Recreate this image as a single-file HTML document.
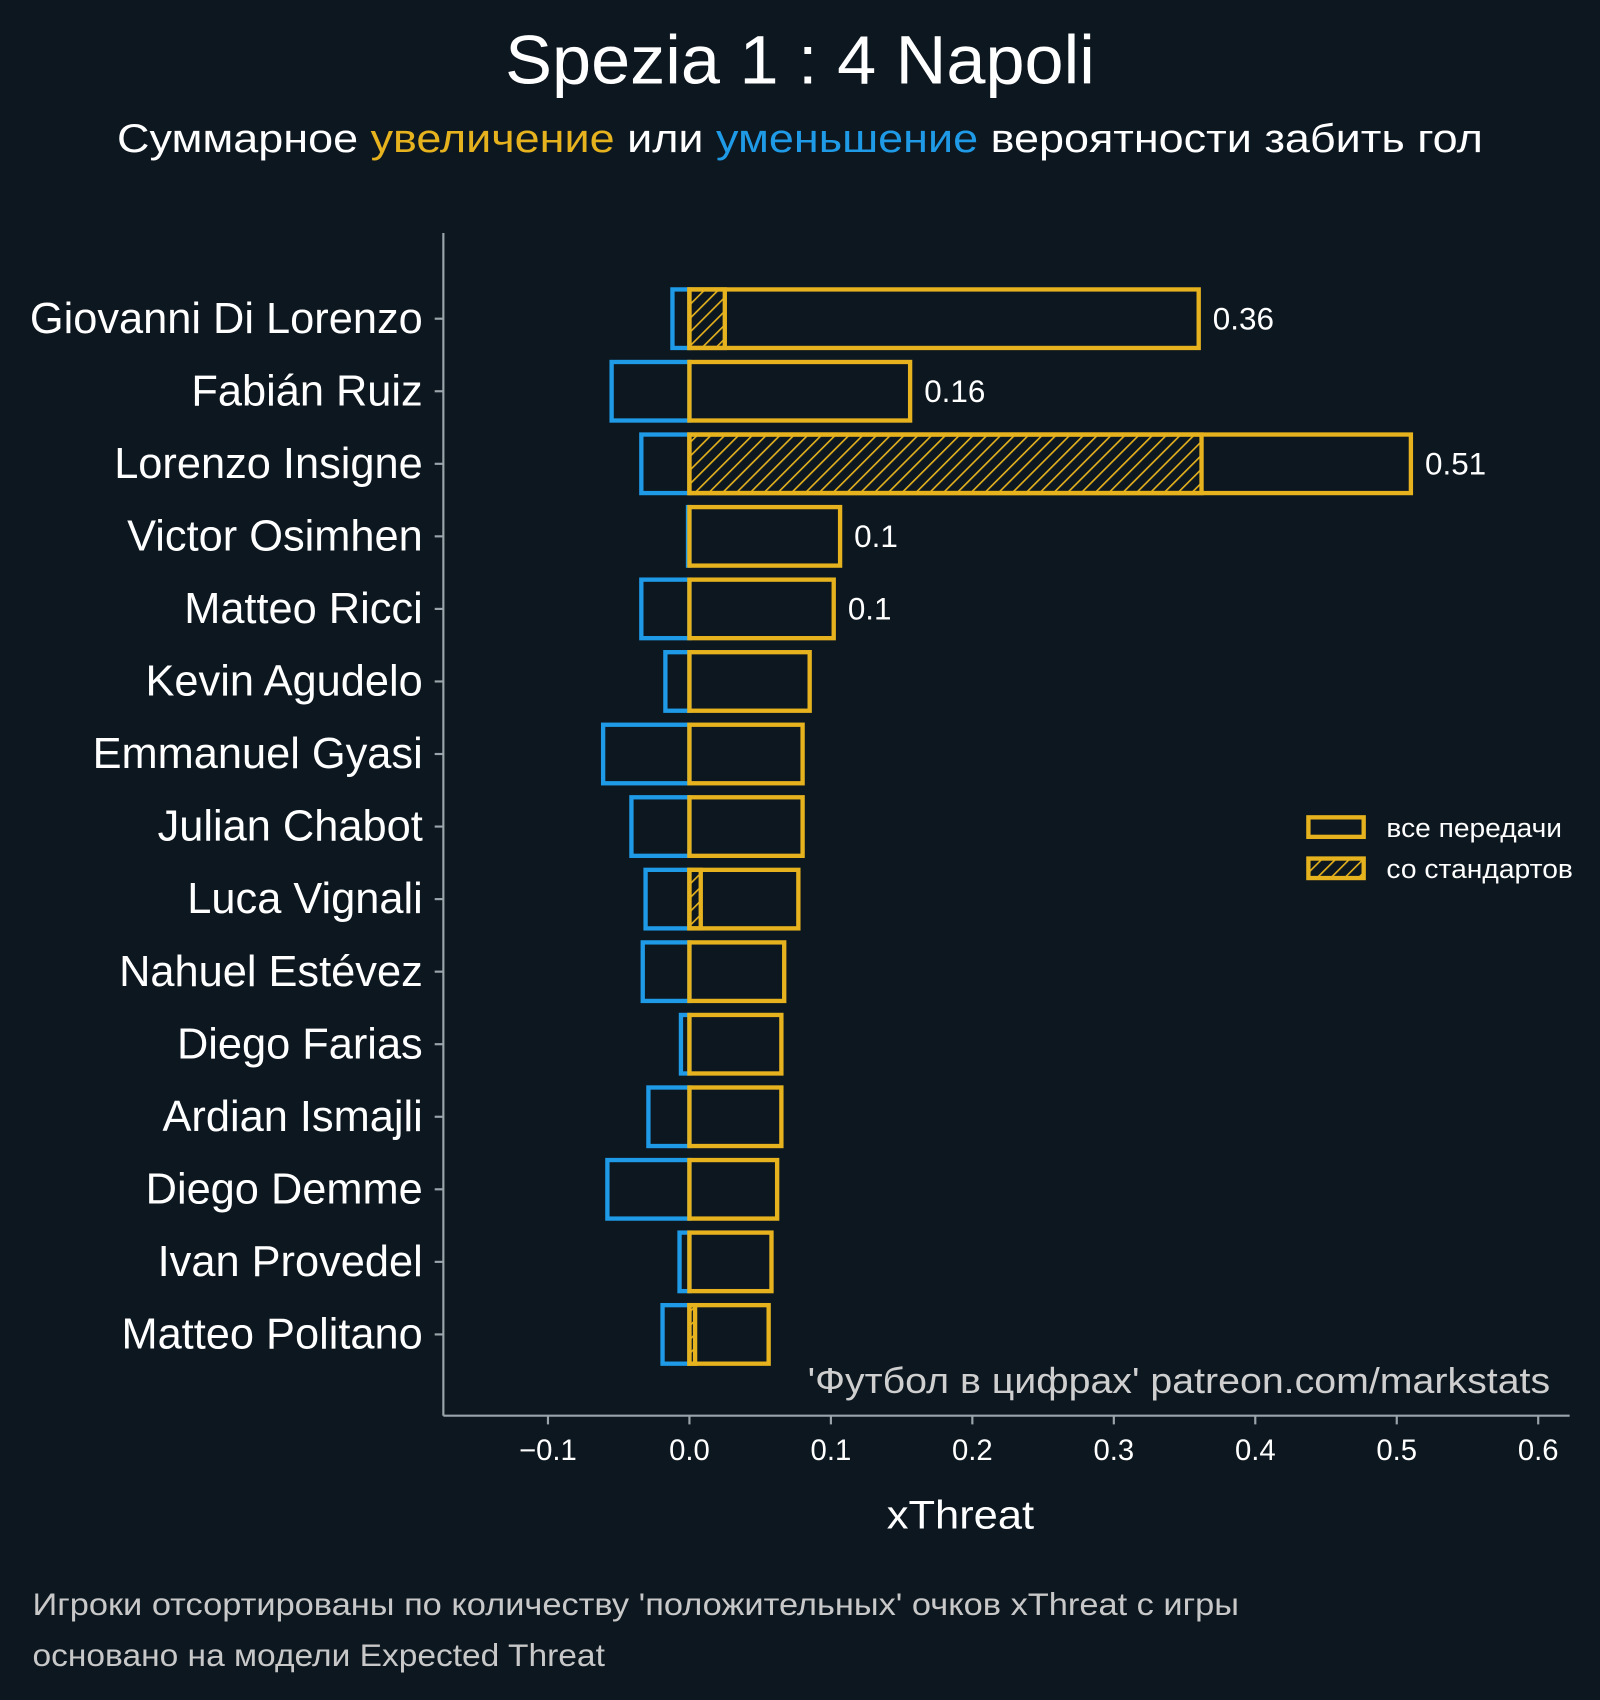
<!DOCTYPE html>
<html><head><meta charset="utf-8">
<style>
html,body{margin:0;padding:0;background:#0d1720;}
svg{display:block;font-family:"Liberation Sans","DejaVu Sans",sans-serif;}
</style></head>
<body>
<svg id="chart" width="1600" height="1700" viewBox="0 0 1476 1568.25" preserveAspectRatio="none" xmlns="http://www.w3.org/2000/svg">
<defs>
<pattern id="hatch" patternUnits="userSpaceOnUse" width="9" height="9" patternTransform="rotate(45)">
<rect width="9" height="9" fill="#0d1720"/>
<line x1="0" y1="0" x2="0" y2="9" stroke="#e6b31e" stroke-width="3"/>
</pattern>
</defs>
<rect x="0" y="0" width="1476" height="1570" fill="#0d1720"/>
<text x="466" y="77" textLength="544" lengthAdjust="spacingAndGlyphs" font-size="63" fill="#ffffff">Spezia 1 : 4 Napoli</text>
<text x="108" y="140" textLength="1260" lengthAdjust="spacingAndGlyphs" font-size="37" fill="#ffffff">Суммарное <tspan fill="#e6b31e">увеличение</tspan> или <tspan fill="#1f9ae6">уменьшение</tspan> вероятности забить гол</text>
<g id="plot"></g>
<g>
<rect x="1207" y="754" width="51" height="18" fill="none" stroke="#e6b31e" stroke-width="4"/>
<text x="1279" y="772" textLength="162" lengthAdjust="spacingAndGlyphs" font-size="24" fill="#ffffff">все передачи</text>
<rect x="1207" y="792" width="51" height="18" fill="url(#hatch)" stroke="#e6b31e" stroke-width="4"/>
<text x="1279" y="810" textLength="172" lengthAdjust="spacingAndGlyphs" font-size="24" fill="#ffffff">со стандартов</text>
</g>
<text x="745" y="1285" textLength="685" lengthAdjust="spacingAndGlyphs" font-size="33" fill="#cfcfcf">'Футбол в цифрах' patreon.com/markstats</text>
<text x="818" y="1410" textLength="136" lengthAdjust="spacingAndGlyphs" font-size="37" fill="#ffffff">xThreat</text>
<text x="30" y="1490" textLength="1113" lengthAdjust="spacingAndGlyphs" font-size="29" fill="#c8c8c8">Игроки отсортированы по количеству 'положительных' очков xThreat с игры</text>
<text x="30" y="1537" textLength="528" lengthAdjust="spacingAndGlyphs" font-size="29" fill="#c8c8c8">основано на модели Expected Threat</text>
</svg>
<script>
const players = ["Giovanni Di Lorenzo","Fabián Ruiz","Lorenzo Insigne","Victor Osimhen","Matteo Ricci","Kevin Agudelo","Emmanuel Gyasi","Julian Chabot","Luca Vignali","Nahuel Estévez","Diego Farias","Ardian Ismajli","Diego Demme","Ivan Provedel","Matteo Politano"];
const positiveValues = [0.36,0.156,0.51,0.1065,0.102,0.085,0.08,0.08,0.077,0.067,0.065,0.065,0.062,0.058,0.056];
const negativeValues = [-0.012,-0.055,-0.034,-0.001,-0.034,-0.017,-0.061,-0.041,-0.031,-0.033,-0.006,-0.029,-0.058,-0.007,-0.019];
const setPieceValues = [0.025,0,0.362,0,0,0,0,0,0.008,0,0,0,0,0,0.004];
const valueLabels = ["0.36","0.16","0.51","0.1","0.1","","","","","","","","","",""];
const xTicks = [-0.1,0,0.1,0.2,0.3,0.4,0.5,0.6];
const xTickLabels = ["−0.1","0.0","0.1","0.2","0.3","0.4","0.5","0.6"];

const NS="http://www.w3.org/2000/svg";
const g=document.getElementById('plot');
const X0=636, XS=1305;
const xs=v=>X0+v*XS;
const Y0=294, YS=(1231-294)/(players.length-1);
const ys=i=>Y0+i*YS;
const BH=54;
function mk(tag,attrs){const e=document.createElementNS(NS,tag);for(const k in attrs)e.setAttribute(k,attrs[k]);g.appendChild(e);return e;}

let ax=mk('line',{x1:409,y1:215,x2:409,y2:1306,stroke:'#9aa4aa','stroke-width':2});


let bx=mk('line',{x1:409,y1:1306,x2:1448,y2:1306,stroke:'#9aa4aa','stroke-width':2});



xTicks.forEach((t,i)=>{
  const tk=mk('line',{x1:xs(t),y1:1306,x2:xs(t),y2:1314,stroke:'#9aa4aa','stroke-width':2});
  
  
  const tl=mk('text',{x:xs(t),y:1347,'text-anchor':'middle','font-size':27,fill:'#ffffff'});
  tl.textContent=xTickLabels[i];
  
  
});

players.forEach((p,i)=>{
  const y=ys(i);
  const tk=mk('line',{x1:401,y1:y,x2:409,y2:y,stroke:'#9aa4aa','stroke-width':2});
  
  
  const lb=mk('text',{x:390,y:y+13,'text-anchor':'end','font-size':40,fill:'#ffffff'});
  lb.textContent=p;
  
  
  const n=negativeValues[i];
  const nb=mk('rect',{x:xs(n),y:y-BH/2,width:Math.max(0,xs(0)-xs(n)),height:BH,fill:'none',stroke:'#1f9ae6','stroke-width':4});
  
  
  const s=setPieceValues[i];
  if(s>0){
    const sb=mk('rect',{x:xs(0),y:y-BH/2,width:xs(s)-xs(0),height:BH,fill:'url(#hatch)',stroke:'#e6b31e','stroke-width':4});
    
    
  }
  const v=positiveValues[i];
  const pb=mk('rect',{x:xs(0),y:y-BH/2,width:xs(v)-xs(0),height:BH,fill:'none',stroke:'#e6b31e','stroke-width':4});
  
  
  if(valueLabels[i]){
    const vl=mk('text',{x:xs(v)+13,y:y+10,'font-size':29,fill:'#ffffff'});
    vl.textContent=valueLabels[i];
    
    
  }
});
</script>
</body></html>
